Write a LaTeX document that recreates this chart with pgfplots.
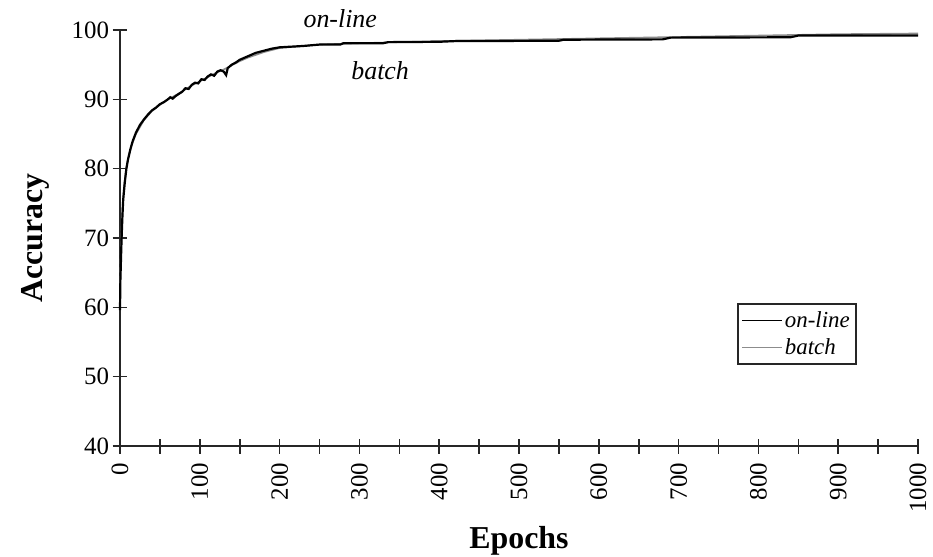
\documentclass[border=0pt]{standalone}
\usepackage{pgfplots}
\pgfplotsset{compat=1.18}
\usepackage{fontspec}
\setmainfont{Liberation Serif}

\begin{document}
\begin{tikzpicture}[x=1bp,y=1bp]
\path[use as bounding box] (-120bp,-111bp) rectangle (813bp,446bp);
\begin{axis}[
  at={(0,0)}, anchor=south west,
  scale only axis,
  width=798bp, height=416bp,
  xmin=0, xmax=1000, ymin=40, ymax=100,
  axis x line=bottom, axis y line=left,
  axis line style={-, line width=1.6bp, black!85},
  xtick={0,100,...,1000},
  minor xtick={50,150,...,950},
  ytick={40,50,...,100},
  tick align=center,
  major tick length=15bp, minor tick length=15bp,
  every tick/.style={line width=1.6bp, black!85},
  /pgf/number format/assume math mode=true,
  /pgf/number format/1000 sep={},
  tick label style={font=\fontsize{25}{28}\selectfont},
  x tick label style={rotate=90, anchor=east},
  xticklabel shift=6bp,
  yticklabel shift=0bp,
  xlabel={\textbf{Epochs}},
  ylabel={\textbf{Accuracy}},
  label style={font=\fontsize{32}{36}\selectfont},
  xlabel style={at={(axis description cs:0.5,0)}, anchor=center, yshift=-95bp},
  ylabel style={at={(axis description cs:0,0.5)}, anchor=center, rotate=0, yshift=85bp},
  clip=false,
  reverse legend,
  legend style={at={(axis cs:773,60.6)}, anchor=north west,
    draw=black!85, line width=1.8bp, inner xsep=4bp, inner ysep=6bp,
    font=\itshape\fontsize{23}{26}\selectfont, cells={anchor=west},
    row sep=5bp},
  legend image code/.code={\draw[#1] (4bp,0bp) -- (44bp,0bp);},
  legend image post style={line width=1.2bp},
]
% batch learning curve (smooth, gray)
\addplot[color=black!45, line width=1.6bp] coordinates {
 (0,63) (1,67) (2,71) (3,74) (5,77.5) (8,80.2) (10,81.4) (15,83.5)
 (20,85) (30,87) (40,88.3) (50,89.2) (60,90) (70,90.6) (80,91.3)
 (90,92) (100,92.6) (110,93.2) (120,93.8) (130,94.3) (140,94.9)
 (150,95.5) (160,96) (180,96.8) (200,97.4) (250,97.9) (300,98.1)
 (400,98.4) (500,98.6) (600,98.8) (700,99.0) (800,99.2) (900,99.4)
 (1000,99.5)
};
\addlegendentry{batch}
% on-line learning curve (noisier, black)
\addplot[color=black, line width=2.2bp] coordinates {
 (0,59.6) (0.5,64) (1,66) (2,70) (3,73) (4,75.5) (6,78) (8,80)
 (10,81.3) (13,82.8) (16,84) (20,85.2) (25,86.3) (30,87.1) (35,87.8)
 (40,88.4) (45,88.8) (50,89.3) (55,89.6) (60,90.0) (63,90.3) (66,90.1)
 (70,90.5) (74,90.8) (78,91.1) (82,91.6) (86,91.5) (90,92.1) (94,92.4)
 (98,92.3) (102,92.9) (106,92.8) (110,93.3) (114,93.6) (118,93.4)
 (122,94.0) (126,94.2) (130,94.0) (133,93.5) (135,94.5) (140,95.0)
 (145,95.3) (150,95.7) (160,96.2) (170,96.7) (180,97.0) (190,97.3)
 (200,97.5) (215,97.6) (230,97.7) (250,97.9) (276,97.9) (280,98.1)
 (330,98.1) (336,98.25) (400,98.3) (420,98.4) (550,98.45) (556,98.6)
 (680,98.65) (690,98.9) (840,98.95) (850,99.2) (1000,99.2)
};
\addlegendentry{on-line}
\node[font=\itshape\fontsize{26}{30}\selectfont, anchor=center]
  at (axis cs:276,101.7) {on-line};
\node[font=\itshape\fontsize{26}{30}\selectfont, anchor=center]
  at (axis cs:326,94.2) {batch};
\end{axis}
\end{tikzpicture}
\end{document}
